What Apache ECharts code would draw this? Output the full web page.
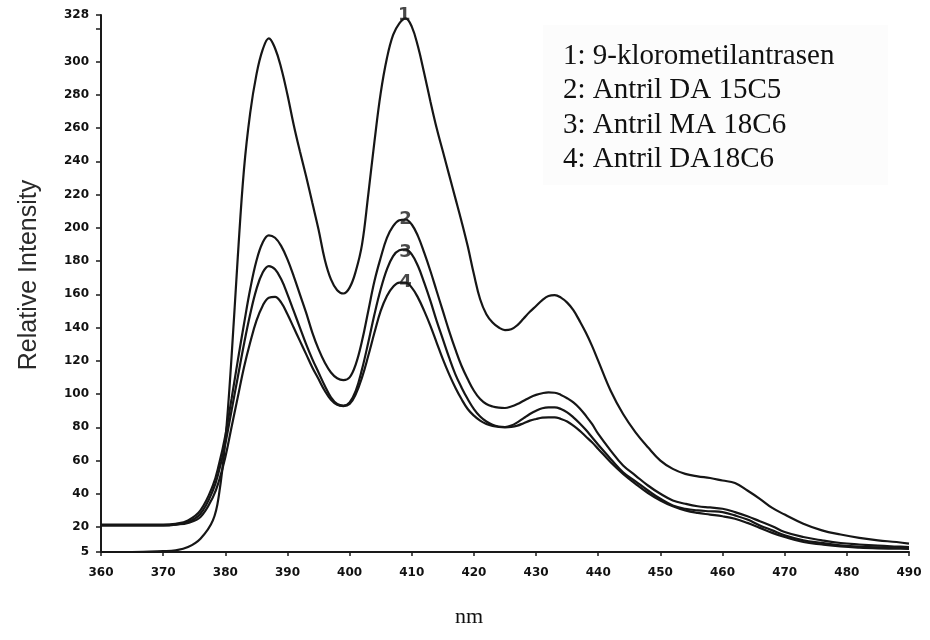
<!DOCTYPE html>
<html>
<head>
<meta charset="utf-8">
<title>Relative Intensity</title>
<script src="https://cdn.jsdelivr.net/npm/echarts@6/dist/echarts.min.js"></script>
<style>
    html, body { margin: 0; padding: 0; background: #fff; }
    #main { width: 930px; height: 640px; }
</style>
</head>
<body>
<div id="main"></div>
<script>
// wavelength (nm), shared by all four curves
var nm = [360, 365, 370, 372, 374, 376,
    378, 379, 380, 381, 382, 383, 384, 385, 386, 387,
    388, 389, 390, 391, 392, 393, 394, 395, 396, 397,
    398, 399, 400, 401, 402, 403, 404, 405, 406, 407,
    408, 409, 410, 411, 412, 413, 414, 415, 416, 417,
    418, 419, 420, 421, 422, 423, 424, 425, 426, 427,
    428, 429, 430, 431, 432, 433, 434, 435, 436, 437,
    438, 439, 440,
    442, 444, 446, 448, 450, 452, 454, 456, 458, 460, 462, 464, 466, 468, 470,
    473, 476, 479, 482, 485, 488, 490];

// 1: 9-klorometilantrasen
var curve1 = [5, 5, 5.5, 6, 8, 13,
    24, 40, 72, 122, 182, 235, 269, 292, 307, 314,
    308, 296, 280, 262, 246, 231, 215, 199, 181, 169,
    162.5, 160.5, 164, 174, 190, 220, 252, 281, 302, 316,
    323, 326, 321, 309, 293, 276, 260, 246, 232, 218,
    204, 189, 172, 157, 148, 143, 140, 138.5, 139, 141.5,
    145.5, 149.5, 153, 156.5, 159, 159.5, 158, 155, 150.5, 144,
    137, 129, 120,
    102, 88, 77, 68, 60, 55, 52, 50.5, 49.5, 48, 46.5, 42, 37, 31.5, 27.5,
    22, 18, 15.5, 13.5, 12, 11, 10];

// 2: Antril DA 15C5
var curve2 = [21.5, 21.5, 21.5, 22, 24, 30,
    45, 58, 75, 97, 120, 142, 163, 180, 191, 195.5,
    194, 189, 181, 171, 160, 149, 137, 127, 119, 113,
    109.5, 108.4, 110, 118, 132, 150, 168, 182, 194, 201,
    204.5, 205, 202, 195, 185, 174, 162, 150, 138, 127,
    117, 109, 102, 97, 94, 92.5, 91.8, 91.6, 92.5, 94,
    96, 98, 99.5, 100.5, 101, 100.8, 99.5, 97.5, 95, 91.5,
    87, 82, 76,
    66, 57, 51, 45, 40, 36, 34, 32.5, 31.8, 31, 29, 26.5, 23.5, 20.5, 17,
    14, 12, 10.4, 9.5, 8.8, 8.3, 8];

// 3: Antril MA 18C6
var curve3 = [21, 21, 21, 21.5, 23, 28,
    42, 54, 70, 90, 110, 130, 148, 163, 173, 177,
    175, 169, 160, 150, 140, 130, 121, 113, 105, 98,
    94, 93, 95, 102, 115, 131, 148, 163, 175, 183,
    186.5, 187, 184, 177, 167, 156, 144, 133, 122, 112,
    104, 97, 91, 86.5, 83.5, 81.5, 80.5, 80.2, 81, 83,
    85.5, 88, 90, 91.5, 92, 92, 91, 89, 86, 82.5,
    78.5, 74, 69.5,
    61, 53, 47.5, 42, 37, 33, 31, 30, 29.5, 29, 27, 24.5, 21, 18, 15,
    12, 10.5, 9, 8.3, 7.8, 7.5, 7.3];

// 4: Antril DA18C6
var curve4 = [21, 21, 21, 21.5, 22.5, 26,
    38, 48, 62, 80, 98, 116, 131, 144, 153, 158,
    158.5, 155, 148, 140, 132, 124, 116, 109, 102, 96.5,
    93.5, 92.8, 94, 100, 110, 123, 137, 150, 159, 164.5,
    167, 167, 164, 158, 150, 141, 131, 121, 112, 104,
    97, 91, 87, 84, 82, 80.8, 80.2, 80, 80.2, 81,
    82.5, 84, 85, 85.8, 86, 86, 85, 83.5, 81, 78,
    74.5, 71, 67,
    59, 52, 46, 40.5, 36, 32.5, 30, 28.5, 27.5, 26.5, 25, 22.5, 19.5, 16.5, 14,
    11, 9.5, 8.3, 7.6, 7.2, 7, 6.8];

var curveNames = ['1', '2', '3', '4'];
var legendLines = ['1: 9-klorometilantrasen', '2: Antril DA 15C5', '3: Antril MA 18C6', '4: Antril DA18C6'];
// where the number of each curve is written (on its 410 nm peak)
var labelNm = [408.8, 409, 409, 409];
var labelVal = [328, 205, 185, 167];

var yTicks = [5, 20, 40, 60, 80, 100, 120, 140, 160, 180, 200, 220, 240, 260, 280, 300, 328];
var yTickMarks = [5, 20, 40, 60, 80, 100, 120, 140, 160, 180, 200, 220, 240, 260, 280, 300, 320, 328];

function pairs(ys) {
    var out = [];
    for (var i = 0; i < nm.length; i++) {
        out.push([nm[i], ys[i]]);
    }
    return out;
}

var allCurves = [curve1, curve2, curve3, curve4];
var series = [];
for (var i = 0; i < allCurves.length; i++) {
    series.push({
        name: curveNames[i],
        type: 'line',
        data: pairs(allCurves[i]),
        smooth: 0.4,
        showSymbol: false,
        lineStyle: { color: '#161616', width: 2.2 },
        z: 3
    });
}

// curve numbers
var numData = [];
for (var i = 0; i < labelNm.length; i++) {
    numData.push({ value: [labelNm[i], labelVal[i]], name: curveNames[i] });
}
series.push({
    type: 'scatter',
    data: numData,
    symbolSize: 0,
    silent: true,
    clip: false,
    z: 5,
    label: {
        show: true,
        position: 'inside',
        formatter: '{b}',
        fontFamily: 'DejaVu Sans',
        fontWeight: 'bold',
        fontSize: 18,
        color: '#1a1a1a'
    }
});

var chart = echarts.init(document.getElementById('main'), null, { renderer: 'canvas' });

var labelFont = {
    fontFamily: 'DejaVu Sans',
    fontWeight: 'bold',
    fontSize: 12,
    color: '#111'
};

var option = {
    backgroundColor: '#ffffff',
    animation: false,
    grid: { left: 101, right: 21, top: 15, bottom: 88 },
    xAxis: {
        type: 'value',
        min: 360,
        max: 490,
        interval: 10,
        splitLine: { show: false },
        axisLine: { lineStyle: { color: '#1a1a1a', width: 2 } },
        axisTick: { length: 4, lineStyle: { color: '#1a1a1a', width: 1.5 } },
        axisLabel: Object.assign({ margin: 15 }, labelFont)
    },
    yAxis: {
        type: 'value',
        min: 5,
        max: 328,
        splitLine: { show: false },
        axisLine: { lineStyle: { color: '#1a1a1a', width: 2 } },
        axisTick: {
            length: 5,
            customValues: yTickMarks,
            lineStyle: { color: '#1a1a1a', width: 1.5 }
        },
        axisLabel: Object.assign({ customValues: yTicks, margin: 12 }, labelFont)
    },
    graphic: [
        {
            type: 'rect',
            left: 543,
            top: 25,
            shape: { width: 345, height: 160 },
            style: { fill: '#fcfcfc' },
            z: 0
        },
        {
            type: 'text',
            left: 563,
            top: 39,
            z: 10,
            style: {
                text: legendLines.join('\n'),
                font: '29px "Liberation Serif", "Times New Roman", serif',
                lineHeight: 34.5,
                fill: '#111'
            }
        },
        {
            // y axis title, rotated
            type: 'text',
            x: 29,
            y: 275,
            rotation: Math.PI / 2,
            z: 10,
            style: {
                text: 'Relative Intensity',
                font: '25px "Liberation Sans", Arial, sans-serif',
                fill: '#2a2a2a',
                align: 'center',
                verticalAlign: 'middle'
            }
        },
        {
            type: 'text',
            left: 455,
            top: 606,
            z: 10,
            style: {
                text: 'nm',
                font: '22px "Liberation Serif", "Times New Roman", serif',
                fill: '#111'
            }
        }
    ],
    series: series
};

chart.setOption(option);
</script>
</body>
</html>
